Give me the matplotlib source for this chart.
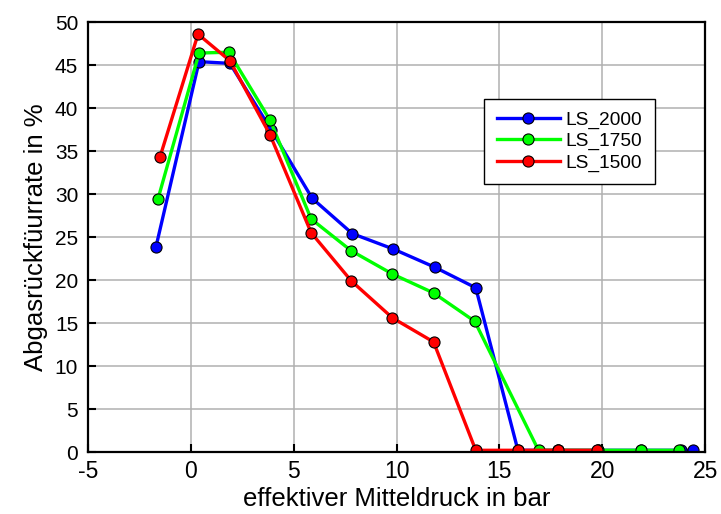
import matplotlib
matplotlib.use("Agg")
import matplotlib.pyplot as plt

plt.rcParams['font.family'] = ['Liberation Sans', 'DejaVu Sans']
plt.rcParams['axes.unicode_minus'] = False

# LS_2000
x_2000 = [-1.7, 0.4, 1.9, 3.9, 5.9, 7.85, 9.85, 11.85, 13.85, 15.9, 17.85, 19.8, 21.9, 23.85, 24.4]
y_2000 = [23.8, 45.4, 45.2, 37.5, 29.5, 25.4, 23.6, 21.5, 19.1, 0.2, 0.2, 0.2, 0.2, 0.2, 0.2]
# LS_1750
x_1750 = [-1.6, 0.4, 1.85, 3.85, 5.85, 7.8, 9.8, 11.8, 13.8, 16.9, 17.85, 19.8, 21.9, 23.75]
y_1750 = [29.4, 46.4, 46.5, 38.6, 27.1, 23.4, 20.7, 18.5, 15.2, 0.2, 0.2, 0.2, 0.2, 0.2]
# LS_1500
x_1500 = [-1.5, 0.35, 1.9, 3.85, 5.85, 7.8, 9.8, 11.8, 13.85, 15.9, 17.85, 19.75]
y_1500 = [34.3, 48.6, 45.5, 36.9, 25.5, 19.9, 15.6, 12.8, 0.2, 0.2, 0.2, 0.2]

xticks = [-5, 0, 5, 10, 15, 20, 25]
yticks = [0, 5, 10, 15, 20, 25, 30, 35, 40, 45, 50]

fig = plt.figure(figsize=(7.21, 5.14), dpi=100)
ax = fig.add_axes([0.122, 0.1206, 0.856, 0.8364])

kw = dict(marker='o', lw=2.4, ms=8, mec='black', mew=0.8)
ax.plot(x_2000, y_2000, color='#0000ff', mfc='#0000ff', label='LS_2000', **kw)
ax.plot(x_1750, y_1750, color='#00ff00', mfc='#00ff00', label='LS_1750', **kw)
ax.plot(x_1500, y_1500, color='#ff0000', mfc='#ff0000', label='LS_1500', **kw)

ax.set_xlim(-5, 25)
ax.set_ylim(0, 50)
ax.set_xticks(xticks)
ax.set_yticks(yticks)
ax.grid(True, color='#b0b0b0', lw=1.1)
ax.set_axisbelow(True)
ax.tick_params(direction='in', length=6, width=1.5, top=False, right=False)
ax.tick_params(axis='x', labelsize=16.5, pad=5.5)
ax.tick_params(axis='y', labelsize=15, pad=7)
for s in ax.spines.values():
    s.set_linewidth(1.6)

ax.set_xlabel('effektiver Mitteldruck in bar', fontsize=18.5, labelpad=3)
ax.set_ylabel('Abgasrückfüurrate in %', fontsize=18.5, labelpad=5)

leg = ax.legend(loc='upper left', bbox_to_anchor=(0.642, 0.822), fontsize=13.8,
                fancybox=False, framealpha=1, edgecolor='black', handlelength=3.3,
                handletextpad=0.3, borderpad=0.65, borderaxespad=0, labelspacing=0.2)
leg.get_frame().set_linewidth(1)

fig.savefig('out.png', dpi=100)
